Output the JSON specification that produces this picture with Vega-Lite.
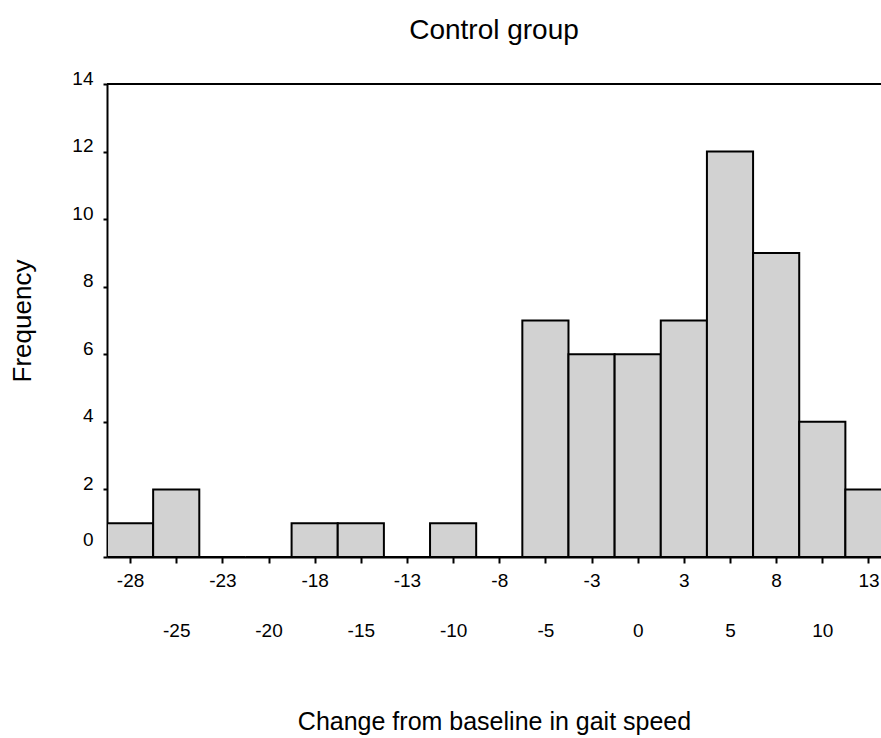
{
  "$schema": "https://vega.github.io/schema/vega-lite/v6.json",
  "width": 774,
  "height": 473,
  "autosize": "none",
  "padding": {"left": 107, "top": 84, "right": 0, "bottom": 181},
  "background": "white",
  "config": {"view": {"stroke": null}, "font": "Liberation Sans"},
  "title": {"text": "Control group", "fontSize": 28, "fontWeight": "normal", "color": "#000", "offset": 24, "anchor": "middle"},
  "data": {"values": [
    {"bin_start": -28.75, "bin_end": -26.25, "count": 1},
    {"bin_start": -26.25, "bin_end": -23.75, "count": 2},
    {"bin_start": -23.75, "bin_end": -21.25, "count": 0},
    {"bin_start": -21.25, "bin_end": -18.75, "count": 0},
    {"bin_start": -18.75, "bin_end": -16.25, "count": 1},
    {"bin_start": -16.25, "bin_end": -13.75, "count": 1},
    {"bin_start": -13.75, "bin_end": -11.25, "count": 0},
    {"bin_start": -11.25, "bin_end": -8.75, "count": 1},
    {"bin_start": -8.75, "bin_end": -6.25, "count": 0},
    {"bin_start": -6.25, "bin_end": -3.75, "count": 7},
    {"bin_start": -3.75, "bin_end": -1.25, "count": 6},
    {"bin_start": -1.25, "bin_end": 1.25, "count": 6},
    {"bin_start": 1.25, "bin_end": 3.75, "count": 7},
    {"bin_start": 3.75, "bin_end": 6.25, "count": 12},
    {"bin_start": 6.25, "bin_end": 8.75, "count": 9},
    {"bin_start": 8.75, "bin_end": 11.25, "count": 4},
    {"bin_start": 11.25, "bin_end": 13.75, "count": 2}
  ]},
  "layer": [
    {
      "mark": {"type": "rect", "fill": "#d2d2d2", "stroke": "#000", "strokeWidth": 2, "clip": true},
      "encoding": {
        "x": {
          "field": "bin_start", "type": "quantitative",
          "scale": {"domain": [-28.75, 13.18], "nice": false, "zero": false},
          "axis": {
            "values": [-27.5, -25, -22.5, -20, -17.5, -15, -12.5, -10, -7.5, -5, -2.5, 0, 2.5, 5, 7.5, 10, 12.5],
            "labelExpr": "datum.value % 5 == 0 ? '' + datum.value : '' + (datum.value < 0 ? floor(datum.value) : ceil(datum.value))",
            "labelFontSize": 19, "labelColor": "#000",
            "labelPadding": {"condition": {"test": "datum.value % 5 == 0", "value": 58}, "value": 8},
            "labelFlush": false, "labelOverlap": false,
            "tickSize": 6, "tickWidth": 2, "tickColor": "#000",
            "domainWidth": 2, "domainColor": "#000", "grid": false,
            "title": "Change from baseline in gait speed",
            "titleFontSize": 25, "titleFontWeight": "normal", "titleColor": "#000",
            "titleX": 387, "titleY": 172, "titleBaseline": "alphabetic"
          }
        },
        "x2": {"field": "bin_end"},
        "y": {
          "field": "count", "type": "quantitative",
          "scale": {"domain": [0, 14], "nice": false},
          "axis": {
            "values": [0, 2, 4, 6, 8, 10, 12, 14],
            "labelFontSize": 19, "labelColor": "#000", "labelPadding": 10,
            "labelBaseline": "alphabetic", "labelFlush": false, "labelOverlap": false,
            "labelOffset": {"condition": {"test": "datum.value == 0", "value": -12}, "value": 0},
            "tickSize": 4, "tickWidth": 2, "tickColor": "#000",
            "domainWidth": 2, "domainColor": "#000", "grid": false,
            "title": "Frequency",
            "titleFontSize": 26, "titleFontWeight": "normal", "titleColor": "#000",
            "titleAngle": -90, "titleX": -85, "titleY": 236.5, "titleBaseline": "middle", "titleAlign": "center"
          }
        },
        "y2": {"datum": 0}
      }
    },
    {
      "mark": {"type": "rule", "stroke": "#000", "strokeWidth": 2},
      "encoding": {"y": {"datum": 14}}
    }
  ]
}
